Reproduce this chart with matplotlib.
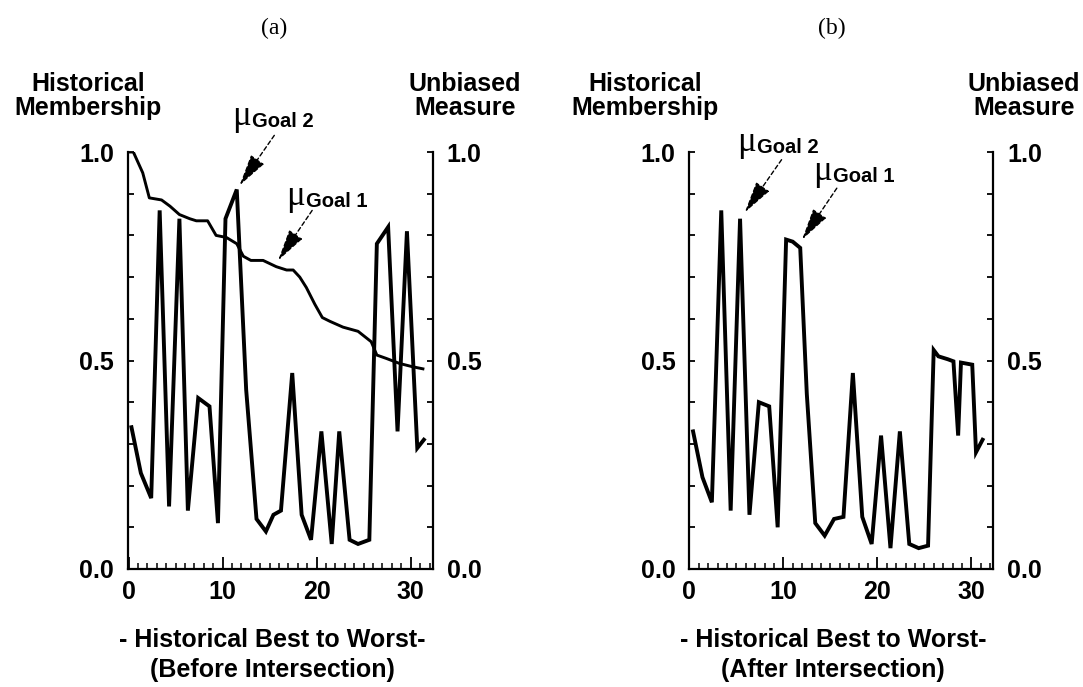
"""
Membership of the historical cases in goal 1 and goal 2, ranked from best
to worst, before (a) and after (b) the fuzzy intersection of the goals.
"""

import matplotlib
matplotlib.use("Agg")
import matplotlib.pyplot as plt
from matplotlib.ticker import MultipleLocator

W, H = 1083, 687

# goal 2 membership (jagged line), panel (a)
goal2_rank = [0.3, 1.3, 2.4, 3.3, 4.3, 5.4, 6.3, 7.4, 8.6, 9.5, 10.3, 11.5, 12.5, 13.6, 14.6, 15.4,
              16.2, 17.4, 18.4, 19.4, 20.5, 21.6, 22.4, 23.5, 24.4, 25.6, 26.4, 27.6, 28.6, 29.6,
              30.7, 31.4]
goal2_mu = [0.34, 0.23, 0.17, 0.86, 0.15, 0.84, 0.14, 0.41, 0.39, 0.11, 0.84, 0.91, 0.43, 0.12,
            0.09, 0.13, 0.14, 0.47, 0.13, 0.07, 0.33, 0.06, 0.33, 0.07, 0.06, 0.07, 0.78, 0.82,
            0.33, 0.81, 0.29, 0.31]

# goal 1 membership (historical ranking, decreasing), panel (a)
goal1_rank = [0.0, 0.5, 1.5, 2.2, 3.5, 4.4, 5.4, 6.5, 7.2, 8.4, 9.3, 10.4, 11.5, 12.2, 13.0, 14.3,
              15.7, 16.8, 17.5, 18.2, 18.9, 19.8, 20.6, 21.4, 22.8, 24.4, 25.8, 26.4, 27.4, 28.8,
              30.2, 31.3]
goal1_mu = [1.0, 1.0, 0.95, 0.89, 0.885, 0.87, 0.85, 0.84, 0.835, 0.835, 0.80, 0.795, 0.78, 0.75,
            0.74, 0.74, 0.725, 0.717, 0.717, 0.70, 0.675, 0.635, 0.603, 0.594, 0.58, 0.57, 0.545,
            0.513, 0.505, 0.493, 0.485, 0.48]

# intersection of both goals, panel (b)
after_rank = [0.4, 1.4, 2.4, 3.4, 4.4, 5.4, 6.4, 7.4, 8.5, 9.4, 10.3, 11.0, 11.8, 12.5, 13.4, 14.4,
              15.4, 16.4, 17.4, 18.4, 19.4, 20.4, 21.4, 22.4, 23.4, 24.4, 25.4, 26.0, 26.5, 27.5,
              28.1, 28.6, 28.9, 30.1, 30.5, 31.2]
after_mu = [0.33, 0.22, 0.16, 0.86, 0.14, 0.84, 0.13, 0.40, 0.39, 0.10, 0.79, 0.785, 0.77, 0.42,
            0.11, 0.08, 0.12, 0.125, 0.47, 0.125, 0.06, 0.32, 0.05, 0.33, 0.06, 0.05, 0.056,
            0.525, 0.51, 0.503, 0.498, 0.32, 0.495, 0.49, 0.28, 0.31]

y_ticks = [0.0, 0.5, 1.0]
x_ticks = [0, 10, 20, 30]


def fig_xy(x, y):
    return x / W, 1 - y / H


def style_axes(ax, xmin):
    ax.set_xlim(xmin, 32.34)
    ax.set_ylim(0, 1)
    ax.spines["top"].set_visible(False)
    for side in ("left", "right", "bottom"):
        ax.spines[side].set_linewidth(1.6)
    ax.set_xticks(x_ticks)
    ax.xaxis.set_minor_locator(MultipleLocator(1))
    ax.set_yticks(y_ticks)
    ax.set_yticklabels([f"{v:.1f}" for v in y_ticks])
    ax.yaxis.set_minor_locator(MultipleLocator(0.1))
    ax.yaxis.set_ticks_position("both")
    ax.tick_params(axis="y", which="both", direction="in", length=4, width=1.3,
                   labelleft=True, labelright=True, pad=10, labelsize=18)
    ax.tick_params(axis="x", which="major", direction="in", length=9, width=1.3,
                   pad=8, labelsize=18)
    ax.tick_params(axis="x", which="minor", direction="in", length=4.5, width=1.1)
    for lab in ax.get_xticklabels() + ax.get_yticklabels():
        lab.set_fontweight("bold")


def goal_label(fig, ax, name, mu_x, base_y, tip, tail):
    fig.text(*fig_xy(mu_x, base_y - 2), "\u03bc", fontsize=25, family="Liberation Serif",
             ha="right", va="baseline")
    fig.text(*fig_xy(mu_x + 1, base_y), name, fontsize=14.5, fontweight="bold",
             ha="left", va="baseline")
    ax.annotate("", xy=tip, xytext=tail, textcoords="offset points",
                arrowprops=dict(arrowstyle="-|>,head_length=2.0,head_width=0.5",
                                lw=1.0, ls=(0, (3, 2)), color="black",
                                shrinkA=0, shrinkB=0))


def main():
    plt.rcParams["font.family"] = ["Liberation Sans", "DejaVu Sans"]
    fig = plt.figure(figsize=(W / 100, H / 100), dpi=100)

    ax_a = fig.add_axes([127.7 / W, 118 / H, 305 / W, 417 / H])
    ax_b = fig.add_axes([689.3 / W, 118 / H, 304 / W, 417 / H])

    ax_a.plot(goal1_rank, goal1_mu, color="black", lw=2.1)
    ax_a.plot(goal2_rank, goal2_mu, color="black", lw=2.8, solid_joinstyle="miter")
    ax_b.plot(after_rank, after_mu, color="black", lw=2.8, solid_joinstyle="miter")

    style_axes(ax_a, -0.1)
    style_axes(ax_b, 0.0)

    goal_label(fig, ax_a, "Goal 2", 251, 127, (11.8, 0.92), (25, 36))
    goal_label(fig, ax_a, "Goal 1", 305, 207, (15.9, 0.74), (24.5, 36))
    goal_label(fig, ax_b, "Goal 2", 756, 153, (5.9, 0.855), (26.5, 38))
    goal_label(fig, ax_b, "Goal 1", 832, 182, (12.0, 0.79), (25, 37))

    panels = [
        # tag x, tag, left label centre, right label centre, bottom centre, subtitle
        (274, "(a)", 88, 465, 272, "(Before Intersection)"),
        (832, "(b)", 645, 1024, 833, "(After Intersection)"),
    ]
    for tag_x, tag, left_c, right_c, bottom_c, sub in panels:
        fig.text(*fig_xy(tag_x, 28), tag, fontsize=17, family="Liberation Serif",
                 ha="center", va="center")
        fig.text(*fig_xy(left_c, 96), "Historical\nMembership", fontsize=18,
                 fontweight="bold", ha="center", va="center", linespacing=1.0)
        fig.text(*fig_xy(right_c, 96), "Unbiased\nMeasure", fontsize=18,
                 fontweight="bold", ha="center", va="center", linespacing=1.0)
        fig.text(*fig_xy(bottom_c, 655), "- Historical Best to Worst-\n" + sub,
                 fontsize=18, fontweight="bold", ha="center", va="center",
                 linespacing=1.3)

    fig.savefig("out.png", dpi=100)
    plt.close(fig)


if __name__ == "__main__":
    main()
